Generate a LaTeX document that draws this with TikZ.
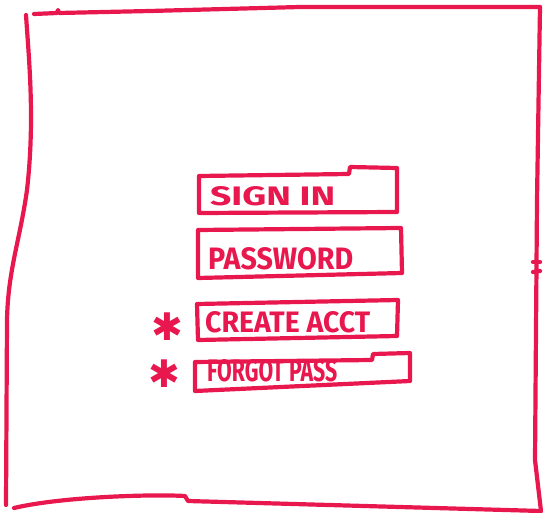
\documentclass[tikz,border=0pt]{standalone}
\usepackage{graphicx}
\usepackage{fontspec}
\setmainfont{Fira Sans}
\newfontfamily\symfont{DejaVu Sans}
\definecolor{ink}{HTML}{E8174E}
\tikzset{
  pen/.style={draw=ink,line width=4.2pt,line cap=round,line join=round},
  lbl/.style={text=ink,inner sep=0pt,anchor=west,font=\bfseries},
  starmark/.style={text=ink,inner sep=0pt,anchor=center,font=\symfont\fontsize{38}{38}\selectfont},
}
\newcommand{\fitto}[3]{\resizebox{#1pt}{#2pt}{#3}}
\begin{document}
\begin{tikzpicture}[x=1pt,y=-1pt]
\useasboundingbox (0,0) rectangle (543,513);
% outer frame
\draw[pen] (34,14) -- (57,13) -- (58,10) -- (59,13) -- (150,11) -- (300,7) -- (540,7);
\draw[pen] (26,15) .. controls (29,60) and (35,120) .. (27,190) .. controls (20,240) and (8,270) .. (7,320) -- (6,505);
\draw[pen] (540,7) -- (537,200) -- (535,460) -- (541,511);
\draw[pen] (533,262) -- (540,262);
\draw[pen] (533,272) -- (540,271);
\draw[pen] (14,508) .. controls (60,497) and (150,494) .. (185,496) -- (188,501) -- (541,511);
% sign in
\draw[pen] (199,176) -- (349,174) -- (350,167) -- (397,168) -- (397,212) -- (199,213) -- cycle;
\node[lbl] (signin) at (210,196.5) {\fitto{125}{19}{SIGN IN}};
% password
\draw[pen] (198,230) -- (401,228) -- (402,273) -- (198,278) -- cycle;
\node[lbl] (password) at (208,259) {\fitto{145}{22}{PASSWORD}};
% create acct
\draw[pen] (197,304) -- (398,300) -- (397,336) -- (198,340) -- cycle;
\node[lbl] (create) at (205,322.5) {\fitto{165}{21}{CREATE ACCT}};
\node[starmark] (star1) at (167,327) {✱};
% forgot pass
\draw[pen] (195,362) -- (372,360) -- (373,354) -- (410,353) -- (410,381) -- (195,391) -- cycle;
\node[lbl] (forgot) at (207,371) {\fitto{130}{22}{FORGOT PASS}};
\node[starmark] (star2) at (164,374) {✱};
\end{tikzpicture}
\end{document}
